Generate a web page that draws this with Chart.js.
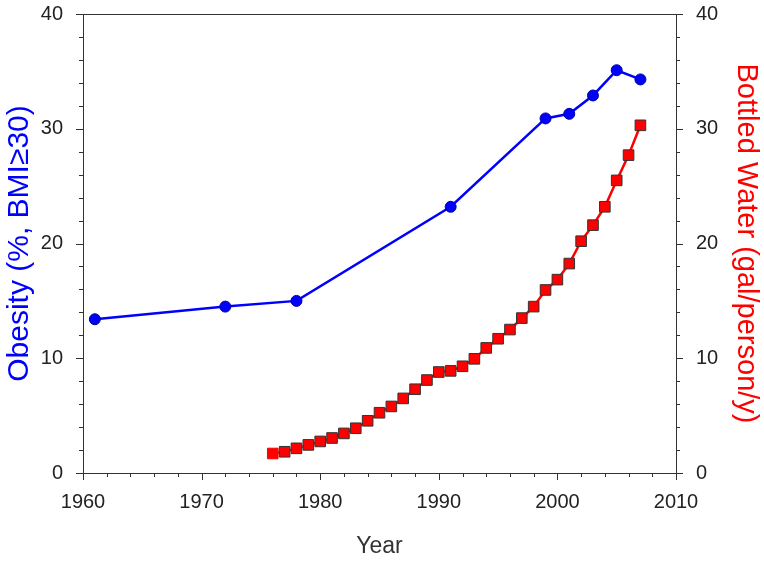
<!DOCTYPE html>
<html>
<head>
<meta charset="utf-8">
<script src="https://cdn.jsdelivr.net/npm/chart.js@4.4.0/dist/chart.umd.min.js"></script>
<style>
  html, body { margin: 0; padding: 0; background: #fff; }
  #wrap { width: 764px; height: 561px; }
</style>
</head>
<body>
<div id="wrap"><canvas id="myChart" width="764" height="561"></canvas></div>
<script>
// obesity survey years and values (%)
const obesityYears = [1961, 1972, 1978, 1991, 1999, 2001, 2003, 2005, 2007];
const obesityVals = [13.4, 14.5, 15.0, 23.2, 30.9, 31.3, 32.9, 35.1, 34.3];

// bottled water, one point per year 1976..2007
const waterYears = [1976, 1977, 1978, 1979, 1980, 1981, 1982, 1983, 1984, 1985, 1986,
  1987, 1988, 1989, 1990, 1991, 1992, 1993, 1994, 1995, 1996, 1997, 1998, 1999,
  2000, 2001, 2002, 2003, 2004, 2005, 2006, 2007];
const waterVals = [1.7, 1.85, 2.15, 2.45, 2.75, 3.05, 3.45, 3.9, 4.55, 5.25, 5.8,
  6.5, 7.3, 8.1, 8.8, 8.9, 9.3, 9.95, 10.9, 11.7, 12.5, 13.5, 14.5, 15.95,
  16.85, 18.25, 20.2, 21.6, 23.2, 25.5, 27.7, 30.3];

const xTicks = [1960, 1970, 1980, 1990, 2000, 2010];
const yTicks = [0, 10, 20, 30, 40];

const ctx = document.getElementById('myChart').getContext('2d');
const axisColor = '#333';
const fontFam = '"Liberation Sans", Arial, sans-serif';

// box around plot + major/minor tick marks
const framePlugin = {
  id: 'frame',
  afterDraw(chart) {
    const c = chart.ctx;
    const a = chart.chartArea;
    const x = chart.scales.x, yl = chart.scales.y, yr = chart.scales.y2;
    c.save();
    c.strokeStyle = axisColor;
    c.lineWidth = 1;
    c.strokeRect(a.left + 0.5, a.top + 0.5, a.right - a.left, a.bottom - a.top);
    c.beginPath();
    for (let v = 1960; v <= 2010; v += 2) {
      const px = Math.round(x.getPixelForValue(v)) + 0.5;
      const len = v % 10 === 0 ? 7 : 4;
      c.moveTo(px, a.bottom);
      c.lineTo(px, a.bottom + len);
    }
    for (let v = 0; v <= 40; v += 2) {
      const len = v % 10 === 0 ? 7 : 4;
      const pl = Math.round(yl.getPixelForValue(v)) + 0.5;
      c.moveTo(a.left, pl);
      c.lineTo(a.left - len, pl);
      const pr = Math.round(yr.getPixelForValue(v)) + 0.5;
      c.moveTo(a.right, pr);
      c.lineTo(a.right + len, pr);
    }
    c.stroke();
    c.restore();
  }
};

function fixY(w) {
  return function (s) {
    s.width = w;
    s.paddingTop = 0;
    s.paddingBottom = 0;
  };
}

new Chart(ctx, {
  type: 'line',
  data: {
    datasets: [{
      label: 'Obesity',
      data: obesityYears.map((yr, i) => ({ x: yr, y: obesityVals[i] })),
      yAxisID: 'y',
      borderColor: '#0000ff',
      backgroundColor: '#0000ff',
      borderWidth: 2.5,
      pointStyle: 'circle',
      pointRadius: 5.5,
      pointBorderColor: '#000099',
      pointBorderWidth: 1,
      tension: 0
    }, {
      label: 'Bottled Water',
      data: waterYears.map((yr, i) => ({ x: yr, y: waterVals[i] })),
      yAxisID: 'y2',
      borderColor: '#ff0000',
      backgroundColor: '#ff0000',
      borderWidth: 2.5,
      pointStyle: 'rect',
      pointRadius: 7.5,
      pointBorderColor: waterYears.map((yr, i) => i === 0 ? '#ff0000' : '#333333'),
      pointBorderWidth: 1,
      tension: 0
    }]
  },
  options: {
    responsive: false,
    animation: false,
    layout: { padding: { top: 14, left: 0, right: 0, bottom: 0 } },
    plugins: {
      legend: { display: false },
      tooltip: { enabled: false }
    },
    scales: {
      x: {
        type: 'linear',
        min: 1960, max: 2010,
        afterFit(s) { s.height = 88; s.paddingLeft = 0; s.paddingRight = 0; },
        afterBuildTicks(s) { s.ticks = xTicks.map(v => ({ value: v })); },
        grid: { display: false },
        border: { display: false },
        ticks: { color: '#222', padding: 9, font: { family: fontFam, size: 20 }, callback: v => String(v), maxRotation: 0 },
        title: { display: true, text: 'Year', color: '#333', font: { family: fontFam, size: 23 }, padding: { top: 0, bottom: 1 } }
      },
      y: {
        position: 'left',
        min: 0, max: 40,
        afterFit: fixY(83),
        afterBuildTicks(s) { s.ticks = yTicks.map(v => ({ value: v })); },
        grid: { display: false },
        border: { display: false },
        ticks: { color: '#222', padding: 12, font: { family: fontFam, size: 20 } },
        title: { display: true, text: 'Obesity (%, BMI≥30)', color: '#0000ff', font: { family: fontFam, size: 30 }, padding: { top: 1.5, bottom: 0 } }
      },
      y2: {
        position: 'right',
        min: 0, max: 40,
        afterFit: fixY(88),
        afterBuildTicks(s) { s.ticks = yTicks.map(v => ({ value: v })); },
        grid: { display: false },
        border: { display: false },
        ticks: { color: '#222', padding: 12, font: { family: fontFam, size: 20 } },
        title: { display: true, text: 'Bottled Water (gal/person/y)', color: '#ff0000', font: { family: fontFam, size: 29 }, padding: { top: 1, bottom: 0 } }
      }
    }
  },
  plugins: [framePlugin]
});
</script>
</body>
</html>
